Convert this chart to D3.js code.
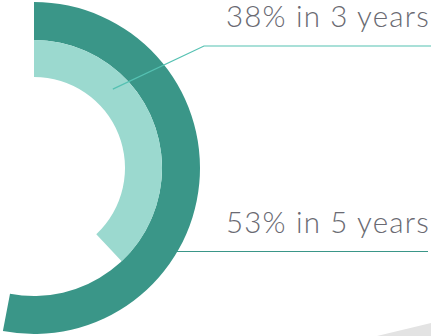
<!DOCTYPE html>
<html>
<head>
<meta charset="utf-8">
<script src="https://cdn.jsdelivr.net/npm/d3@7"></script>
<style>
  html, body { margin: 0; padding: 0; background: #fff; }
  svg { display: block; }
</style>
</head>
<body>
<svg id="chart" width="431" height="336"></svg>
<script>
// Share of cases reached within each horizon (percent of a full turn)
const horizons = ["3 years", "5 years"];
const shares = [38, 53];
const labels = ["38% in 3 years", "53% in 5 years"];

const W = 431, H = 336;
const cx = 34, cy = 168;
const svg = d3.select("#chart");

// Percent -> angle, clockwise from 12 o'clock
const angle = d3.scaleLinear().domain([0, 100]).range([0, 2 * Math.PI]);

// Ring geometry: index 0 = inner (3 years), index 1 = outer (5 years)
const rings = [
  { inner: 91, outer: 128, fill: "#9bd9cf" },
  { inner: 128, outer: 166, fill: "#3a9688" }
];

// Soft grey wedge in the lower-right corner
svg.append("path")
  .attr("d", `M${W - 54},${H} L${W},${H - 13} L${W},${H} Z`)
  .attr("fill", "#e3e3e3");

const g = svg.append("g").attr("transform", `translate(${cx},${cy})`);
const arc = d3.arc();

// Draw outer ring first so the inner one sits on top
[1, 0].forEach(i => {
  g.append("path")
    .attr("d", arc({
      innerRadius: rings[i].inner,
      outerRadius: rings[i].outer,
      startAngle: 0,
      endAngle: angle(shares[i])
    }))
    .attr("fill", rings[i].fill);
});

// Leader for the 3-year ring: from inside the light band, up to an elbow, then right
const a3 = angle(45 * 100 / 360);
const r3 = (rings[0].inner + rings[0].outer) / 2 + 2;
const p3 = [cx + r3 * Math.sin(a3), cy - r3 * Math.cos(a3)];
svg.append("path")
  .attr("d", `M${p3[0]},${p3[1]} L204,46 L${W},46`)
  .attr("fill", "none")
  .attr("stroke", "#55c1b2")
  .attr("stroke-width", 1.2);

// Leader for the 5-year ring: horizontal from the outer edge
const y5 = 251.5;
const x5 = cx + Math.sqrt(rings[1].outer ** 2 - (y5 - cy) ** 2);
svg.append("line")
  .attr("x1", x5 - 2).attr("y1", y5)
  .attr("x2", W - 3).attr("y2", y5)
  .attr("stroke", "#3a9688")
  .attr("stroke-width", 1.2);

// Labels
const labelY = [27, 233];
svg.selectAll("text.lbl")
  .data(labels)
  .join("text")
  .attr("class", "lbl")
  .attr("x", 430)
  .attr("y", (d, i) => labelY[i])
  .attr("text-anchor", "end")
  .attr("font-family", "Lato, sans-serif")
  .attr("font-weight", 300)
  .attr("font-size", 29.5)
  .attr("letter-spacing", 1.2)
  .attr("fill", "#6a6a72")
  .text(d => d);
</script>
</body>
</html>
